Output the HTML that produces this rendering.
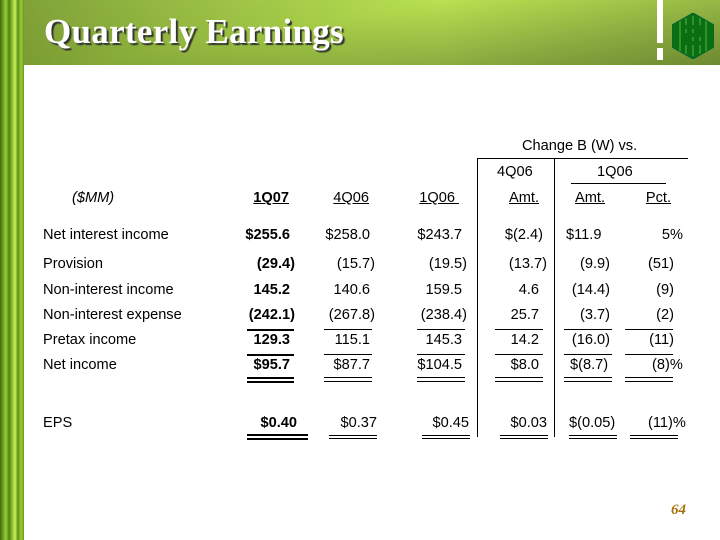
<!DOCTYPE html>
<html><head><meta charset="utf-8"><style>
body{margin:0;width:720px;height:540px;position:relative;background:#fff;overflow:hidden;font-family:"Liberation Sans",Arial,sans-serif;font-size:14.6px;color:#000}
.a{position:absolute;white-space:nowrap}
.r{position:absolute;text-align:right;white-space:nowrap}
.l{position:absolute;background:#000;height:1px}
.b{font-weight:bold}
</style></head><body>
<div class="a" style="left:0;top:0;width:24px;height:540px;background:linear-gradient(90deg,#3d6a08 0,#6ea020 3px,#9ccc3a 6px,#4e8010 9px,#86bb28 12px,#c9ef60 15px,#5d8f14 18px,#9ccc3a 21px,#6a9a1c 24px)"></div>
<div class="a" style="left:24px;top:0;width:696px;height:65px;background:linear-gradient(170deg,#c8f060 0%,#b8e050 40%,#8aaa40 75%,#6d8a30 100%)"></div>
<div class="a" style="left:24px;top:0;width:696px;height:65px;background:linear-gradient(90deg,rgba(80,110,30,.6) 0%,rgba(0,0,0,0) 60%)"></div>
<div class="a" style="left:44px;top:12px;font-family:'Liberation Serif',serif;font-weight:bold;font-size:35px;letter-spacing:0.3px;color:#fff;text-shadow:2px 2px 1px #333">Quarterly Earnings</div>
<div class="a" style="left:657px;top:0;width:6px;height:43px;background:#fff"></div>
<div class="a" style="left:657px;top:48px;width:6px;height:12px;background:#fff"></div>
<svg class="a" style="left:672px;top:13px" width="42" height="46"><polygon points="21,0 42,12 42,34 21,46 0,34 0,12" fill="#0b6e12" stroke="#063" /><path d="M8 8V38M14 5V41M21 3V43M28 5V41M34 8V38" stroke="#3aa030" stroke-width="1.5"/><path d="M12 14H28V22H14V30H30" stroke="#0b6e12" stroke-width="4" fill="none"/></svg>

<div class="a" style="left:522px;top:138px">Change B (W) vs.</div>
<div class="l" style="left:477px;top:158px;width:211px"></div>
<div class="a" style="left:477px;top:158px;width:1px;height:279px;background:#000"></div>
<div class="a" style="left:554px;top:158px;width:1px;height:279px;background:#000"></div>
<div class="a" style="left:497px;top:164px">4Q06</div>
<div class="a" style="left:597px;top:164px">1Q06</div>
<div class="l" style="left:571px;top:183px;width:95px"></div>

<div class="a" style="left:72px;top:190px;font-style:italic">($MM)</div>
<div class="r b" style="left:230px;width:59px;top:190px;text-decoration:underline">1Q07</div>
<div class="r" style="left:310px;width:59px;top:190px;text-decoration:underline">4Q06</div>
<div class="r" style="left:400px;width:59px;top:190px;text-decoration:underline">1Q06&nbsp;</div>
<div class="r" style="left:480px;width:59px;top:190px;text-decoration:underline">Amt.</div>
<div class="r" style="left:546px;width:59px;top:190px;text-decoration:underline">Amt.</div>
<div class="r" style="left:612px;width:59px;top:190px;text-decoration:underline">Pct.</div>

<div class="a" style="left:43px;top:227px">Net interest income</div>
<div class="a" style="left:43px;top:256px">Provision</div>
<div class="a" style="left:43px;top:282px">Non-interest income</div>
<div class="a" style="left:43px;top:307px">Non-interest expense</div>
<div class="a" style="left:43px;top:332px">Pretax income</div>
<div class="a" style="left:43px;top:357px">Net income</div>
<div class="a" style="left:43px;top:415px">EPS</div>

<div class="r b" style="left:200px;width:90px;top:227px">$255.6</div>
<div class="r b" style="left:200px;width:95px;top:256px">(29.4)</div>
<div class="r b" style="left:200px;width:90px;top:282px">145.2</div>
<div class="r b" style="left:200px;width:95px;top:307px">(242.1)</div>
<div class="r b" style="left:200px;width:90px;top:332px">129.3</div>
<div class="r b" style="left:200px;width:90px;top:357px">$95.7</div>
<div class="r b" style="left:200px;width:97px;top:415px">$0.40</div>
<div class="r" style="left:280px;width:90px;top:227px">$258.0</div>
<div class="r" style="left:280px;width:95px;top:256px">(15.7)</div>
<div class="r" style="left:280px;width:90px;top:282px">140.6</div>
<div class="r" style="left:280px;width:95px;top:307px">(267.8)</div>
<div class="r" style="left:280px;width:90px;top:332px">115.1</div>
<div class="r" style="left:280px;width:90px;top:357px">$87.7</div>
<div class="r" style="left:280px;width:97px;top:415px">$0.37</div>
<div class="r" style="left:370px;width:92px;top:227px">$243.7</div>
<div class="r" style="left:370px;width:97px;top:256px">(19.5)</div>
<div class="r" style="left:370px;width:92px;top:282px">159.5</div>
<div class="r" style="left:370px;width:97px;top:307px">(238.4)</div>
<div class="r" style="left:370px;width:92px;top:332px">145.3</div>
<div class="r" style="left:370px;width:92px;top:357px">$104.5</div>
<div class="r" style="left:370px;width:99px;top:415px">$0.45</div>
<div class="r" style="left:460px;width:83px;top:227px">$(2.4)</div>
<div class="r" style="left:460px;width:87px;top:256px">(13.7)</div>
<div class="r" style="left:460px;width:79px;top:282px">4.6</div>
<div class="r" style="left:460px;width:79px;top:307px">25.7</div>
<div class="r" style="left:460px;width:79px;top:332px">14.2</div>
<div class="r" style="left:460px;width:79px;top:357px">$8.0</div>
<div class="r" style="left:460px;width:87px;top:415px">$0.03</div>
<div class="a" style="left:566px;top:227px">$11.9</div>
<div class="r" style="left:540px;width:70px;top:256px">(9.9)</div>
<div class="r" style="left:540px;width:70px;top:282px">(14.4)</div>
<div class="r" style="left:540px;width:70px;top:307px">(3.7)</div>
<div class="r" style="left:540px;width:70px;top:332px">(16.0)</div>
<div class="a" style="left:570px;top:357px">$(8.7)</div>
<div class="a" style="left:569px;top:415px">$(0.05)</div>
<div class="r" style="left:610px;width:73px;top:227px">5%</div>
<div class="r" style="left:610px;width:64px;top:256px">(51)</div>
<div class="r" style="left:610px;width:64px;top:282px">(9)</div>
<div class="r" style="left:610px;width:64px;top:307px">(2)</div>
<div class="r" style="left:610px;width:64px;top:332px">(11)</div>
<div class="a" style="left:652px;top:357px">(8)%</div>
<div class="a" style="left:648px;top:415px">(11)%</div>

<div class="l" style="left:247px;top:329px;width:47px;height:2px"></div>
<div class="l" style="left:324px;top:329px;width:48px"></div>
<div class="l" style="left:417px;top:329px;width:48px"></div>
<div class="l" style="left:495px;top:329px;width:48px"></div>
<div class="l" style="left:564px;top:329px;width:48px"></div>
<div class="l" style="left:625px;top:329px;width:48px"></div>
<div class="l" style="left:247px;top:354px;width:47px;height:2px"></div>
<div class="l" style="left:324px;top:354px;width:48px"></div>
<div class="l" style="left:417px;top:354px;width:48px"></div>
<div class="l" style="left:495px;top:354px;width:48px"></div>
<div class="l" style="left:564px;top:354px;width:48px"></div>
<div class="l" style="left:625px;top:354px;width:48px"></div>
<div class="l" style="left:247px;top:377px;width:47px;height:2px"></div><div class="l" style="left:247px;top:381px;width:47px;height:2px"></div>
<div class="l" style="left:324px;top:377px;width:48px"></div><div class="l" style="left:324px;top:381px;width:48px"></div>
<div class="l" style="left:417px;top:377px;width:48px"></div><div class="l" style="left:417px;top:381px;width:48px"></div>
<div class="l" style="left:495px;top:377px;width:48px"></div><div class="l" style="left:495px;top:381px;width:48px"></div>
<div class="l" style="left:564px;top:377px;width:48px"></div><div class="l" style="left:564px;top:381px;width:48px"></div>
<div class="l" style="left:625px;top:377px;width:48px"></div><div class="l" style="left:625px;top:381px;width:48px"></div>
<div class="l" style="left:247px;top:434px;width:61px;height:2px"></div><div class="l" style="left:247px;top:438px;width:61px;height:2px"></div>
<div class="l" style="left:329px;top:435px;width:48px"></div><div class="l" style="left:329px;top:438px;width:48px"></div>
<div class="l" style="left:422px;top:435px;width:48px"></div><div class="l" style="left:422px;top:438px;width:48px"></div>
<div class="l" style="left:500px;top:435px;width:48px"></div><div class="l" style="left:500px;top:438px;width:48px"></div>
<div class="l" style="left:569px;top:435px;width:48px"></div><div class="l" style="left:569px;top:438px;width:48px"></div>
<div class="l" style="left:630px;top:435px;width:48px"></div><div class="l" style="left:630px;top:438px;width:48px"></div>

<div class="a" style="left:671px;top:502px;font-family:'Liberation Serif',serif;font-style:italic;font-weight:bold;font-size:15px;color:#a8700a">64</div>
</body></html>
